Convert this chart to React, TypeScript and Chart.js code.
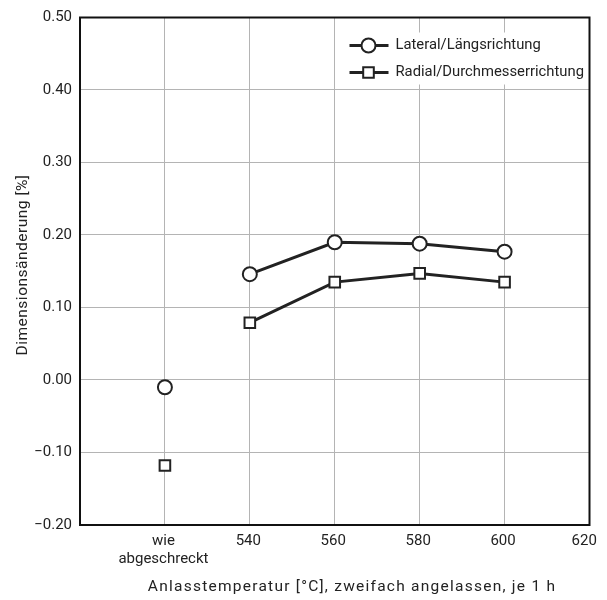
import React, { useEffect, useRef } from 'react';
import { Chart, registerables } from 'chart.js';

Chart.register(...registerables);

const temperatures = [520, 540, 560, 580, 600];
const lateral = [-0.01, 0.146, 0.19, 0.188, 0.177];
const radial = [-0.118, 0.079, 0.135, 0.147, 0.135];
const xTickValues = [520, 540, 560, 580, 600, 620];
const xTickLabels: (string | string[])[] = [['wie', 'abgeschreckt'], '540', '560', '580', '600', '620\u2002'];
const yTickValues = [-0.2, -0.1, 0, 0.1, 0.2, 0.3, 0.4, 0.5];
const seriesLabels = ['Lateral/Längsrichtung', 'Radial/Durchmesserrichtung'];
const seriesMarkers = ['circle', 'rect'];
const xTitle = 'Anlasstemperatur [°C], zweifach angelassen, je 1 h';
const yTitle = 'Dimensionsänderung [%]';

const FONT = "Roboto, 'Liberation Sans', sans-serif";
const INK = '#222';

function drawMarker(ctx: CanvasRenderingContext2D, style: string, x: number, y: number) {
  ctx.save();
  ctx.fillStyle = '#fff';
  ctx.strokeStyle = INK;
  ctx.lineWidth = 2;
  ctx.beginPath();
  if (style === 'circle') {
    ctx.arc(x, y, 7, 0, Math.PI * 2);
  } else {
    const s = 7.5 * Math.SQRT1_2;
    ctx.rect(x - s, y - s, 2 * s, 2 * s);
  }
  ctx.fill();
  ctx.stroke();
  ctx.restore();
}

const framePlugin = {
  id: 'frameAndText',
  afterDraw(chart: any) {
    const { ctx, chartArea: a } = chart;
    ctx.save();
    // frame
    ctx.strokeStyle = '#111';
    ctx.lineWidth = 2;
    ctx.strokeRect(a.left, a.top, a.right - a.left, a.bottom - a.top);

    // legend
    ctx.fillStyle = '#fff';
    ctx.fillRect(a.right - 242, a.top + 15, 240, 52);
    seriesLabels.forEach((label, i) => {
      const y = a.top + 28 + i * 27;
      ctx.strokeStyle = INK;
      ctx.lineWidth = 3;
      ctx.beginPath();
      ctx.moveTo(a.right - 240, y);
      ctx.lineTo(a.right - 201, y);
      ctx.stroke();
      drawMarker(ctx, seriesMarkers[i], a.right - 221, y);
      ctx.fillStyle = INK;
      ctx.font = `14.8px ${FONT}`;
      ctx.textAlign = 'left';
      ctx.textBaseline = 'middle';
      ctx.fillText(label, a.right - 194, y);
    });

    // x title
    ctx.fillStyle = INK;
    ctx.font = `15.5px ${FONT}`;
    (ctx as any).letterSpacing = '1.25px';
    ctx.textAlign = 'center';
    ctx.textBaseline = 'alphabetic';
    ctx.fillText(xTitle, 344, 583);

    // y title
    (ctx as any).letterSpacing = '0.5px';
    ctx.translate(19, 257);
    ctx.rotate(-Math.PI / 2);
    ctx.textAlign = 'center';
    ctx.textBaseline = 'alphabetic';
    ctx.fillText(yTitle, 0, 0);
    (ctx as any).letterSpacing = '0px';
    ctx.restore();
  },
};

function makeSeries(values: number[], marker: string, radius: number) {
  return {
    data: temperatures.map((t, i) => ({ x: t, y: values[i] })),
    borderColor: INK,
    borderWidth: 3,
    pointStyle: marker,
    pointRadius: radius,
    pointBorderWidth: 2,
    pointBackgroundColor: '#fff',
    pointBorderColor: INK,
    fill: false,
    tension: 0,
    segment: {
      borderColor: (c: any) => (c.p0DataIndex === 0 ? 'rgba(0,0,0,0)' : INK),
    },
  };
}

export default function App() {
  const ref = useRef<HTMLCanvasElement | null>(null);
  useEffect(() => {
    if (!ref.current) return;
    const chart = new Chart(ref.current, {
      type: 'line',
      data: {
        datasets: [makeSeries(lateral, seriesMarkers[0], 7), makeSeries(radial, seriesMarkers[1], 7.5)] as any,
      },
      options: {
        animation: false,
        responsive: false,
        devicePixelRatio: 1,
        layout: { padding: { top: 7, right: 6, left: 0, bottom: 0 } },
        plugins: { legend: { display: false }, tooltip: { enabled: false } },
        scales: {
          x: {
            type: 'linear',
            min: 500,
            max: 620,
            afterFit: (s: any) => {
              s.height = 73;
              s.paddingLeft = 0;
              s.paddingRight = 0;
            },
            afterBuildTicks: (s: any) => {
              s.ticks = xTickValues.map((v) => ({ value: v }));
            },
            grid: { color: '#b4b4b4', lineWidth: 1, drawTicks: false },
            border: { display: false },
            ticks: {
              autoSkip: false,
              maxRotation: 0,
              padding: 8,
              labelOffset: -1.5,
              color: INK,
              font: { family: FONT, size: 15, lineHeight: 1.15 },
              callback: (v: any) => {
                const i = xTickValues.indexOf(Number(v));
                return i >= 0 ? xTickLabels[i] : '';
              },
            },
          },
          y: {
            type: 'linear',
            min: -0.2,
            max: 0.5,
            afterFit: (s: any) => {
              s.width = 72;
              s.paddingTop = 0;
              s.paddingBottom = 0;
            },
            afterBuildTicks: (s: any) => {
              s.ticks = yTickValues.map((v) => ({ value: v }));
            },
            grid: { color: '#b4b4b4', lineWidth: 1, drawTicks: false },
            border: { display: false },
            ticks: {
              padding: 8,
              color: INK,
              font: { family: FONT, size: 15 },
              callback: (v: any) => {
                const n = Math.abs(Number(v)) < 1e-9 ? 0 : Number(v);
                return n.toFixed(2).replace('-', '\u2212');
              },
            },
          },
        },
      } as any,
      plugins: [framePlugin],
    });
    return () => chart.destroy();
  }, []);
  return (
    <div style={{ width: 591, height: 590 }}>
      <canvas ref={ref} width={591} height={590} style={{ display: 'block' }} />
    </div>
  );
}
